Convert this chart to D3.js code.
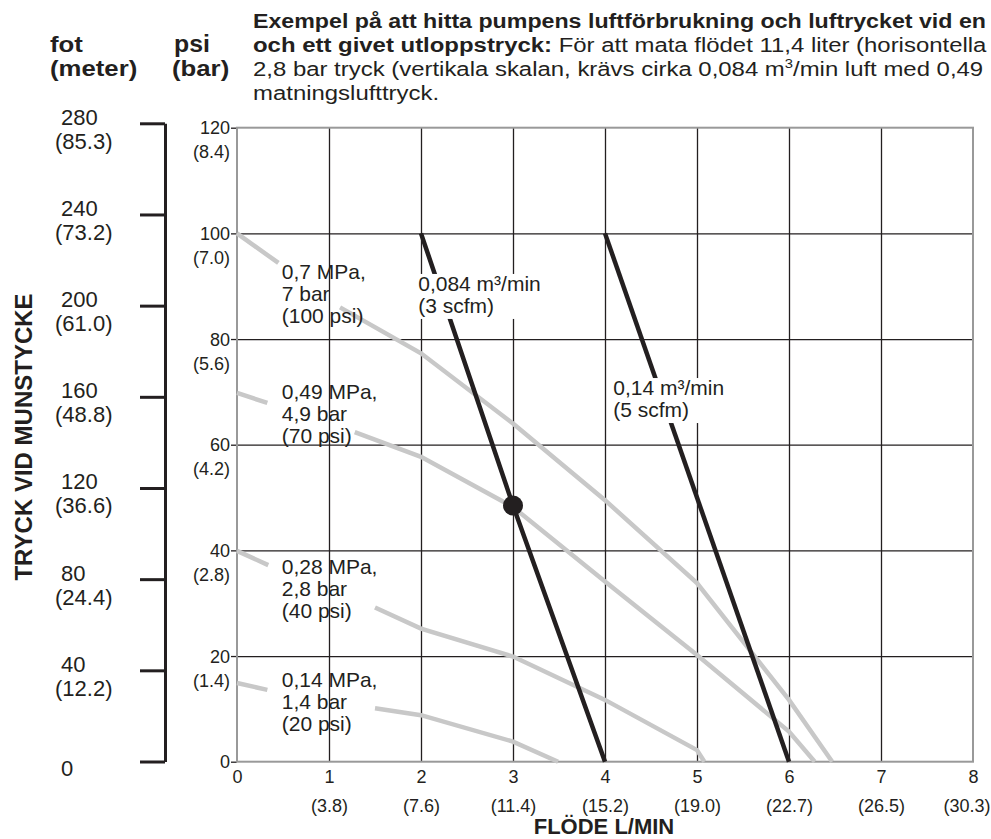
<!DOCTYPE html>
<html>
<head>
    <meta charset="utf-8">
    <title>Luftförbrukning</title>
    <script src="https://cdnjs.cloudflare.com/ajax/libs/d3/7.8.5/d3.min.js"></script>
    <style>
        body { margin: 0; background: #fff; }
        svg { display: block; font-family: "Liberation Sans", Arial, Helvetica, sans-serif; }
        text { fill: #231f20; }
    </style>
</head>

<body>

<script type="text/javascript">
    // tick values and their second-line labels
    var flowTicks = [0, 1, 2, 3, 4, 5, 6, 7, 8];
    var flowLitres = ["", "(3.8)", "(7.6)", "(11.4)", "(15.2)", "(19.0)", "(22.7)", "(26.5)", "(30.3)"];
    var psiTicks = [0, 20, 40, 60, 80, 100, 120];
    var barLabels = ["", "(1.4)", "(2.8)", "(4.2)", "(5.6)", "(7.0)", "(8.4)"];
    var feetTicks = [0, 40, 80, 120, 160, 200, 240, 280];
    var meterLabels = ["", "(12.2)", "(24.4)", "(36.6)", "(48.8)", "(61.0)", "(73.2)", "(85.3)"];

    // supply pressure curves [flow gpm, outlet psi], null = gap behind label
    var curve100 = [[0, 100], [0.45, 94.4], null, [1.12, 86.0], [2, 77.3], [3, 64.0], [4, 49.5], [5, 33.8], [6, 11.7], [6.47, 0]];
    var curve70 = [[0, 69.8], [0.33, 67.9], null, [1.28, 62.4], [2, 57.7], [3, 48.2], [4, 34.1], [5, 20.2], [6, 5.7], [6.28, 0]];
    var curve40 = [[0, 39.9], [0.34, 37.2], null, [1.5, 29.2], [2, 25.2], [3, 19.9], [4, 11.7], [5, 2.2], [5.08, 0]];
    var curve20 = [[0, 14.9], [0.33, 13.6], null, [1.5, 10.1], [2, 8.8], [3, 3.8], [3.49, 0]];
    var curveNames = [
        ["0,7 MPa,", "7 bar", "(100 psi)"],
        ["0,49 MPa,", "4,9 bar", "(70 psi)"],
        ["0,28 MPa,", "2,8 bar", "(40 psi)"],
        ["0,14 MPa,", "1,4 bar", "(20 psi)"]
    ];

    // air consumption lines
    var scfm3 = [[2, 100], [3, 48.5], [4, 0]];
    var scfm5 = [[4, 100], [6, 0]];
    var scfmNames = [["0,084 m³/min", "(3 scfm)"], ["0,14 m³/min", "(5 scfm)"]];
    var examplePoint = [3, 48.5];

    var width = 991,
        height = 839,
        plotLeft = 237, plotTop = 127.7,
        plotW = 736, plotH = 634;

    var svg = d3.select("body").append("svg")
        .attr("width", width)
        .attr("height", height);

    var xScale = d3.scaleLinear()
        .domain([0, 8])
        .range([plotLeft, plotLeft + plotW]);
    var yScale = d3.scaleLinear()
        .domain([0, 120])
        .range([plotTop + plotH, plotTop]);
    var feetScale = d3.scaleLinear()
        .domain([0, 280])
        .range([761.5, 123.3]);

    // --- title (the source type is set wide, hence the stretch) ---
    var title = svg.append("g")
        .attr("transform", "translate(253,0) scale(1.14,1)")
        .attr("font-size", 21);
    svg.append("text")
        .attr("transform", "translate(253,28) scale(1.105,1)")
        .attr("font-size", 21)
        .attr("font-weight", "bold")
        .text("Exempel på att hitta pumpens luftförbrukning och luftrycket vid en");
    var t2 = title.append("text").attr("y", 52);
    t2.append("tspan").attr("font-weight", "bold").text("och ett givet utloppstryck:");
    t2.append("tspan").text(" För att mata flödet 11,4 liter (horisontella");
    var t3 = title.append("text").attr("y", 76);
    t3.append("tspan").text("2,8 bar tryck (vertikala skalan, krävs cirka 0,084 m");
    t3.append("tspan").attr("font-size", 13).attr("dy", -8).text("3");
    t3.append("tspan").attr("dy", 8).text("/min luft med 0,49");
    title.append("text").attr("y", 100).text("matningslufttryck.");

    // unit headers
    var heads = svg.append("g").attr("font-size", 23).attr("font-weight", "bold");
    heads.append("text").attr("transform", "translate(50,52) scale(1.12,1)").text("fot");
    heads.append("text").attr("transform", "translate(50,76) scale(1.12,1)").text("(meter)");
    heads.append("text").attr("transform", "translate(174,52) scale(1.08,1)").text("psi");
    heads.append("text").attr("transform", "translate(172,76) scale(1.12,1)").text("(bar)");

    // --- feet / meter scale ---
    var feetAxis = d3.axisLeft(feetScale)
        .tickValues(feetTicks)
        .tickSize(25)
        .tickSizeOuter(0)
        .tickFormat("");
    var fg = svg.append("g")
        .attr("transform", "translate(165,0)")
        .call(feetAxis);
    fg.selectAll("path, line").attr("stroke", "#231f20").attr("stroke-width", 3);
    fg.selectAll("g.tick").each(function (d, i) {
        var t = d3.select(this);
        var twoLines = meterLabels[i] !== "";
        t.append("text")
            .attr("x", -104).attr("y", twoLines ? 1 : 14)
            .attr("font-size", 22).attr("text-anchor", "start")
            .text(d);
        if (twoLines) {
            t.append("text")
                .attr("x", -110).attr("y", 25)
                .attr("font-size", 22).attr("text-anchor", "start")
                .text(meterLabels[i]);
        }
    });

    svg.append("text")
        .attr("transform", "translate(32,437) rotate(-90)")
        .attr("text-anchor", "middle")
        .attr("font-size", 24)
        .attr("font-weight", "bold")
        .text("TRYCK VID MUNSTYCKE");

    // --- psi axis + horizontal grid ---
    var yAxis = d3.axisLeft(yScale)
        .tickValues(psiTicks)
        .tickSize(6)
        .tickPadding(1);
    var yg = svg.append("g")
        .attr("transform", "translate(" + plotLeft + ",0)")
        .call(yAxis)
        .attr("font-family", null)
        .attr("font-size", 18);
    yg.select(".domain").remove();
    yg.selectAll("g.tick line").attr("stroke", "#231f20").attr("stroke-width", 1.3);
    yg.selectAll("g.tick text").attr("dy", null).attr("y", 6).attr("fill", "#231f20");
    yg.selectAll("g.tick").each(function (d, i) {
        if (d > 0 && d < 120) {
            d3.select(this).append("line")
                .attr("x1", 0).attr("x2", plotW)
                .attr("stroke", "#231f20").attr("stroke-width", 1.3);
        }
        d3.select(this).append("text")
            .attr("x", -7).attr("y", 30)
            .attr("text-anchor", "end")
            .attr("fill", "#231f20")
            .text(barLabels[i]);
    });

    // --- flow axis + vertical grid ---
    var xAxis = d3.axisBottom(xScale)
        .tickValues(flowTicks)
        .tickSize(0)
        .tickPadding(0);
    var xg = svg.append("g")
        .attr("transform", "translate(0," + (plotTop + plotH) + ")")
        .call(xAxis)
        .attr("font-family", null)
        .attr("font-size", 18);
    xg.select(".domain").remove();
    xg.selectAll("g.tick text").attr("dy", null).attr("y", 21).attr("fill", "#231f20");
    xg.selectAll("g.tick").each(function (d, i) {
        if (d > 0 && d < 8) {
            d3.select(this).append("line")
                .attr("y1", 0).attr("y2", -plotH)
                .attr("stroke", "#231f20").attr("stroke-width", 1.3);
        }
        var lbl = d3.select(this).append("text")
            .attr("y", 50)
            .attr("text-anchor", "middle")
            .attr("fill", "#231f20")
            .text(flowLitres[i]);
        // keep the last label inside the page
        var over = xScale(d) + lbl.node().getComputedTextLength() / 2 - (width - 1);
        if (over > 0) lbl.attr("x", -over);
    });

    svg.append("text")
        .attr("x", 604).attr("y", 834)
        .attr("text-anchor", "middle")
        .attr("font-size", 22)
        .attr("font-weight", "bold")
        .text("FLÖDE L/MIN");

    // plot frame
    svg.append("rect")
        .attr("x", xScale(0)).attr("y", yScale(120))
        .attr("width", xScale(8) - xScale(0))
        .attr("height", yScale(0) - yScale(120))
        .attr("fill", "none")
        .attr("stroke", "#999")
        .attr("stroke-width", 2);

    // --- curves ---
    var line = d3.line()
        .defined(function (d) { return d !== null; })
        .x(function (d) { return xScale(d[0]); })
        .y(function (d) { return yScale(d[1]); });

    svg.selectAll("path.pressure")
        .data([curve100, curve70, curve40, curve20])
        .enter()
        .append("path")
        .attr("class", "pressure")
        .attr("d", line)
        .attr("fill", "none")
        .attr("stroke", "#c8c8c8")
        .attr("stroke-width", 4.5);

    svg.selectAll("path.scfm")
        .data([scfm3, scfm5])
        .enter()
        .append("path")
        .attr("class", "scfm")
        .attr("d", line)
        .attr("fill", "none")
        .attr("stroke", "#231f20")
        .attr("stroke-width", 4.5);

    svg.append("circle")
        .attr("cx", xScale(examplePoint[0]))
        .attr("cy", yScale(examplePoint[1]))
        .attr("r", 10)
        .attr("fill", "#231f20");

    // --- labels ---
    var curveAt = [[0.486, 91.3], [0.486, 68.6], [0.486, 35.5], [0.486, 14.2]];
    curveNames.forEach(function (lines, i) {
        var t = svg.append("text")
            .attr("x", xScale(curveAt[i][0]))
            .attr("y", yScale(curveAt[i][1]))
            .attr("font-size", 21);
        lines.forEach(function (s, j) {
            t.append("tspan")
                .attr("x", xScale(curveAt[i][0]))
                .attr("dy", j === 0 ? 0 : 22)
                .text(s);
        });
    });

    var scfmAt = [[1.97, 89.1], [4.09, 69.4]];
    scfmNames.forEach(function (lines, i) {
        var g = svg.append("g");
        var bg = g.append("rect").attr("fill", "#fff");
        var t = g.append("text")
            .attr("x", xScale(scfmAt[i][0]))
            .attr("y", yScale(scfmAt[i][1]))
            .attr("font-size", 21);
        lines.forEach(function (s, j) {
            t.append("tspan")
                .attr("x", xScale(scfmAt[i][0]))
                .attr("dy", j === 0 ? 0 : 22)
                .text(s);
        });
        var bb = t.node().getBBox();
        bg.attr("x", bb.x - 2).attr("y", bb.y + 2)
            .attr("width", bb.width + 6).attr("height", bb.height);
    });
</script>

</body>

</html>
